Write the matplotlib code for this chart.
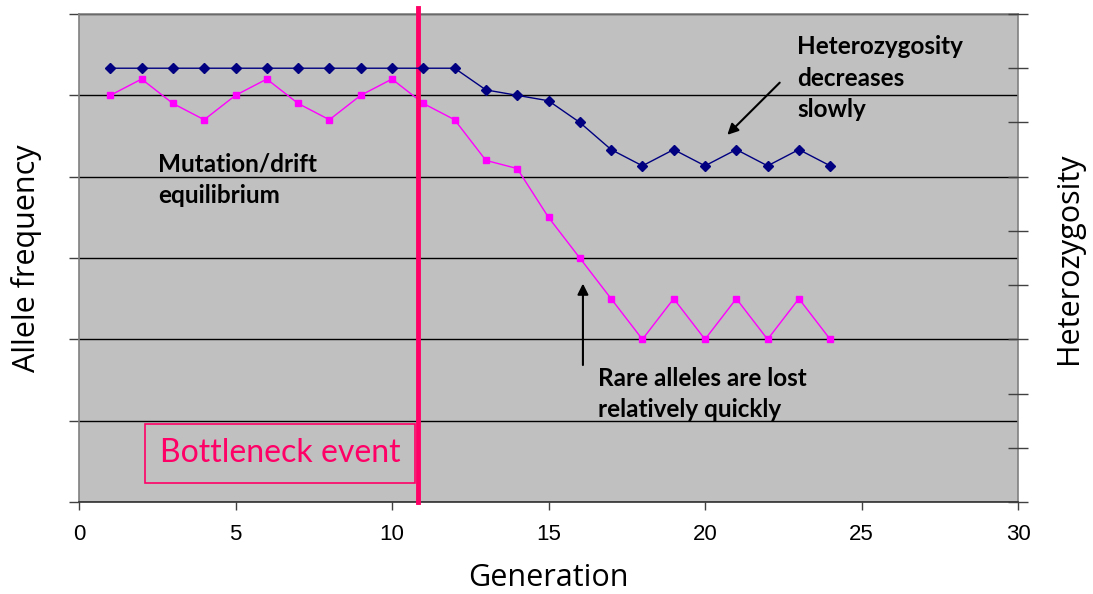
import matplotlib
matplotlib.use("Agg")
import matplotlib.pyplot as plt

# Generations and the two tracked quantities
generations = list(range(1, 25))
allele_freq = [0.50, 0.52, 0.49, 0.47, 0.50, 0.52, 0.49, 0.47, 0.50, 0.52,
               0.49, 0.47, 0.42, 0.41, 0.35, 0.30, 0.25, 0.20, 0.25, 0.20,
               0.25, 0.20, 0.25, 0.20]
heterozygosity = [0.80, 0.80, 0.80, 0.80, 0.80, 0.80, 0.80, 0.80, 0.80, 0.80,
                  0.80, 0.80, 0.76, 0.75, 0.74, 0.70, 0.65, 0.62, 0.65, 0.62,
                  0.65, 0.62, 0.65, 0.62]
bottleneck_gen = 10.82
x_ticks = [0, 5, 10, 15, 20, 25, 30]

CAL = ["Lato", "DejaVu Sans"]
TITLE_FONT = ["Open Sans", "DejaVu Sans"]
PINK = "#FF0066"

fig = plt.figure(figsize=(10.93, 5.94), dpi=100)
ax = fig.add_axes([79 / 1093, 1 - 502 / 594, 939 / 1093, 488 / 594])
ax.set_facecolor("#C0C0C0")

ax.set_xlim(0, 30)
ax.set_ylim(0, 0.6)
ax.set_xticks(x_ticks)
ax.set_xticklabels([str(t) for t in x_ticks], family="Liberation Sans", fontsize=16)
ax.set_yticks([i / 10 for i in range(7)])
ax.set_yticklabels([])
ax.tick_params(axis="y", length=7, width=1, color="#404040")
ax.tick_params(axis="x", length=6, width=1, color="#404040", pad=10)
ax.grid(axis="y", color="black", linewidth=1)
ax.set_axisbelow(True)
for side in ["top", "right", "left"]:
    ax.spines[side].set_color("#808080")
    ax.spines[side].set_linewidth(1.2)
ax.spines["bottom"].set_color("#303030")
ax.spines["bottom"].set_linewidth(1.2)

ax.plot(generations, allele_freq, color="#FF00FF", linewidth=1,
        marker="s", markersize=4, zorder=3)

ax2 = ax.twinx()
ax2.set_ylim(0, 0.9)
ax2.set_yticks([i / 10 for i in range(10)])
ax2.set_yticklabels([])
ax2.tick_params(axis="y", direction="inout", length=15, width=1, color="#404040")
for side in ["top", "right", "left", "bottom"]:
    ax2.spines[side].set_visible(False)
ax2.plot(generations, heterozygosity, color="#000080", linewidth=1,
         marker="D", markersize=5, zorder=3)

# Bottleneck marker
ax.axvline(bottleneck_gen, ymin=0, ymax=1.012, color=PINK, linewidth=3.5,
           clip_on=False, zorder=5)
ax.text(10.27, 0.060, "Bottleneck event", family=CAL, fontsize=23,
        color=PINK, ha="right", va="center", zorder=4,
        bbox=dict(boxstyle="square,pad=0.45", facecolor="none", edgecolor=PINK,
                  linewidth=1.2))

ax.set_xlabel("Generation", family=TITLE_FONT, fontsize=22, labelpad=13)
ax.set_ylabel("Allele frequency", family=TITLE_FONT, fontsize=22, labelpad=16)
ax2.set_ylabel("Heterozygosity", family=TITLE_FONT, fontsize=22, labelpad=15)

# Annotations
ax.text(2.52, 0.396, "Mutation/drift\nequilibrium", family=CAL, fontsize=17.5,
        fontweight="bold", ha="left", va="center", linespacing=1.45)
ax.text(22.94, 0.521, "Heterozygosity\ndecreases\nslowly", family=CAL, fontsize=17.5,
        fontweight="bold", ha="left", va="center", linespacing=1.45)
ax.text(16.58, 0.133, "Rare alleles are lost\nrelatively quickly", family=CAL,
        fontsize=17.5, fontweight="bold", ha="left", va="center", linespacing=1.45)

ax.annotate("", xy=(20.65, 0.449), xytext=(22.45, 0.518),
            arrowprops=dict(arrowstyle="-|>", color="black", lw=1.5,
                            mutation_scale=16))
ax.annotate("", xy=(16.1, 0.272), xytext=(16.1, 0.165),
            arrowprops=dict(arrowstyle="-|>", color="black", lw=1.5,
                            mutation_scale=16))

fig.savefig("out.png", dpi=100)
